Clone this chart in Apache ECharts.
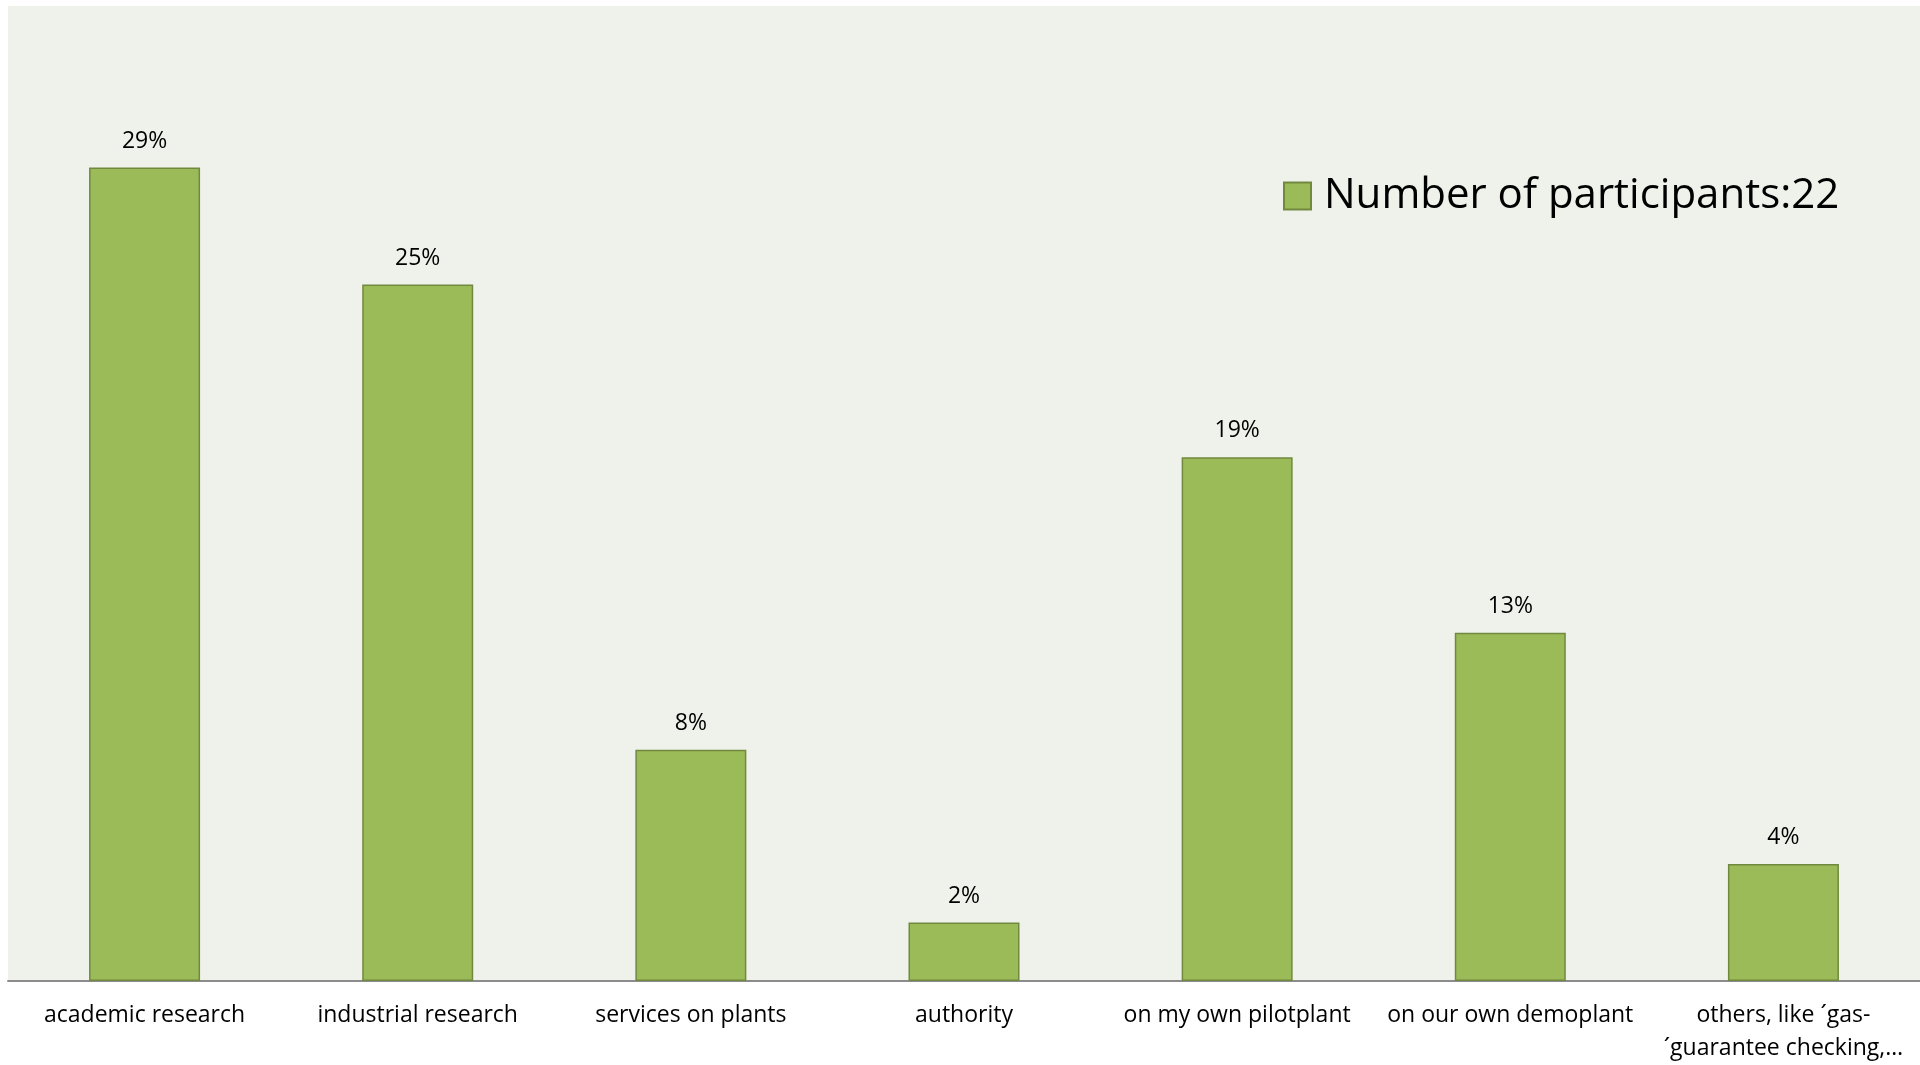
<!DOCTYPE html>
<html>
<head>
<meta charset="utf-8">
<script src="https://cdn.jsdelivr.net/npm/echarts@6/dist/echarts.min.js"></script>
<style>
  html, body { margin: 0; padding: 0; background: #ffffff; }
  #chart { width: 1920px; height: 1065px; }
</style>
</head>
<body>
<div id="chart"></div>
<script>
// Share of answers per field of activity (percent)
const categories = [
  'academic research',
  'industrial research',
  'services on plants',
  'authority',
  'on my own pilotplant',
  'on our own demoplant',
  'others, like \u00b4gas-\n\u00b4guarantee checking,\u2026'
];
const shares = [29.2, 25, 8.3, 2.1, 18.8, 12.5, 4.2];
const seriesName = 'Number of participants:22';

const font = 'Open Sans';
const chart = echarts.init(document.getElementById('chart'));
chart.setOption({
  animation: false,
  backgroundColor: '#ffffff',
  textStyle: { fontFamily: font },
  grid: {
    left: 8, right: 0, top: 6, bottom: 83,
    show: true, backgroundColor: '#eff2ea', borderWidth: 0
  },
  legend: {
    left: 1278, top: 170,
    icon: 'rect', itemWidth: 27, itemHeight: 27, itemGap: 10,
    textStyle: { fontFamily: font, fontSize: 42, color: '#000000', padding: [0, 0, 0, 8] },
    data: [seriesName]
  },
  xAxis: {
    type: 'category',
    data: categories,
    axisLine: { lineStyle: { color: '#8c8c8c', width: 2 } },
    axisTick: { show: false },
    axisLabel: {
      interval: 0, margin: 18, color: '#000000',
      fontFamily: font, fontSize: 23, lineHeight: 33
    }
  },
  yAxis: {
    type: 'value', min: 0, max: 35,
    show: false, splitLine: { show: false }
  },
  series: [{
    name: seriesName,
    type: 'bar',
    data: shares,
    barWidth: 111,
    itemStyle: { color: '#9bbb59', borderColor: '#71893f', borderWidth: 1.5 },
    label: {
      show: true, position: 'top', distance: 15,
      color: '#000000', fontFamily: font, fontSize: 23,
      formatter: p => Math.round(p.value) + '%'
    }
  }]
});
</script>
</body>
</html>
